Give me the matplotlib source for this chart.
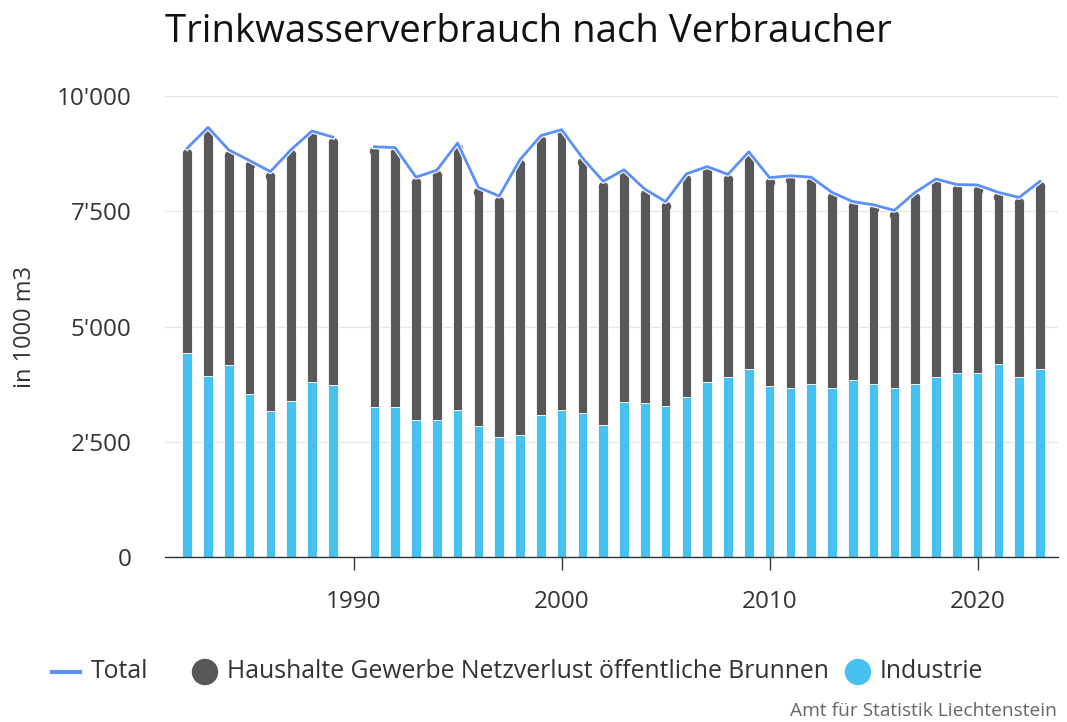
import numpy as np
import matplotlib
matplotlib.use("Agg")
import matplotlib.pyplot as plt
import matplotlib.patheffects as pe
from matplotlib.ticker import FuncFormatter

plt.rcParams['font.family'] = ['Open Sans', 'DejaVu Sans']

# Werte in 1000 m3, 1990 fehlt
years = [1982, 1983, 1984, 1985, 1986, 1987, 1988, 1989,
         1991, 1992, 1993, 1994, 1995, 1996, 1997, 1998, 1999, 2000,
         2001, 2002, 2003, 2004, 2005, 2006, 2007, 2008, 2009, 2010,
         2011, 2012, 2013, 2014, 2015, 2016, 2017, 2018, 2019, 2020,
         2021, 2022, 2023]
industrie = [4435, 3930, 4160, 3530, 3170, 3390, 3800, 3730,
             3250, 3250, 2970, 2970, 3190, 2840, 2610, 2645, 3080, 3190,
             3120, 2860, 3355, 3350, 3280, 3480, 3790, 3910, 4070, 3710,
             3670, 3750, 3670, 3830, 3750, 3670, 3750, 3910, 3990, 3990,
             4190, 3910, 4070]
haushalte = [4435, 5390, 4670, 5070, 5190, 5450, 5440, 5380,
             5650, 5630, 5270, 5420, 5790, 5180, 5220, 5975, 6060, 6080,
             5540, 5290, 5045, 4630, 4430, 4830, 4680, 4390, 4720, 4520,
             4600, 4490, 4240, 3880, 3890, 3850, 4160, 4290, 4090, 4080,
             3720, 3890, 4080]
total = [8870, 9320, 8830, 8600, 8360, 8840, 9240, 9110,
         8900, 8880, 8240, 8390, 8980, 8020, 7830, 8620, 9140, 9270,
         8660, 8150, 8400, 7980, 7710, 8310, 8470, 8300, 8790, 8230,
         8270, 8240, 7910, 7710, 7640, 7520, 7910, 8200, 8080, 8070,
         7910, 7800, 8150]

DARK = "#58585b"
LIGHT = "#47c2f0"
LINE = "#5b8ff9"
TXT = "#333333"
BAR_W = 0.46

fig = plt.figure(figsize=(10.67, 7.22), dpi=100)
ax = fig.add_axes([0.1546, 0.2285, 0.9916 - 0.1546, 0.867 - 0.2285])

x = np.array(years)
ind = np.array(industrie)
hh = np.array(haushalte)

# runde Kappe oben: Radius in Datenwerten (Achse ~46 px pro 1000)
cap_r = 4.6 / 0.046
ax.bar(x, ind, width=BAR_W, color=LIGHT, edgecolor="white", linewidth=0.6, zorder=2)
ax.bar(x, hh - cap_r, width=BAR_W, bottom=ind, color=DARK, edgecolor="white",
       linewidth=0.6, zorder=2)
ax.scatter(x, ind + hh - cap_r, s=46, color=DARK, marker="o", linewidths=0, zorder=2)

# Linie mit Luecke 1990
tot = np.array(total, dtype=float)
before = x < 1990
for mask in (before, ~before):
    ax.plot(x[mask], tot[mask], color=LINE, lw=2, zorder=3,
            path_effects=[pe.Stroke(linewidth=3.6, foreground="white"), pe.Normal()])

ax.set_xlim(1980.93, 2023.87)
ax.set_ylim(0, 10000)
ax.set_yticks([0, 2500, 5000, 7500, 10000])
ax.yaxis.set_major_formatter(FuncFormatter(lambda v, p: f"{int(v):,}".replace(",", "'")))
ax.set_xticks([1990, 2000, 2010, 2020])

ax.grid(axis="y", color="#e6e6e6", lw=1, zorder=0)
ax.set_axisbelow(True)
for s in ("top", "right", "left"):
    ax.spines[s].set_visible(False)
ax.spines["bottom"].set_color(TXT)
ax.spines["bottom"].set_linewidth(1)
ax.tick_params(axis="y", length=0, pad=24, labelsize=17.5, labelcolor=TXT)
ax.tick_params(axis="x", length=9, width=1, color=TXT, pad=15,
               labelsize=17.5, labelcolor=TXT)

ax.set_ylabel("in 1000 m3", fontsize=17, color=TXT, labelpad=14)

fig.text(0.495, 0.955, "Trinkwasserverbrauch nach Verbraucher", ha="center", va="center",
         fontsize=27.6, color="#111111")

# Legende
ly = 1 - 672 / 722
fig.lines.append(plt.Line2D([52 / 1067, 80 / 1067], [ly, ly], color=LINE, lw=3,
                            transform=fig.transFigure))
fig.text(91 / 1067, ly, "Total", fontsize=17.8, va="center", color=TXT)
fig.patches.append(matplotlib.patches.Ellipse((205 / 1067, ly), 25 / 1067, 25 / 722,
                                              color=DARK, transform=fig.transFigure))
fig.text(227 / 1067, ly, "Haushalte Gewerbe Netzverlust öffentliche Brunnen", fontsize=17.8,
         va="center", color=TXT)
fig.patches.append(matplotlib.patches.Ellipse((858 / 1067, ly), 25 / 1067, 25 / 722,
                                              color=LIGHT, transform=fig.transFigure))
fig.text(880 / 1067, ly, "Industrie", fontsize=17.8, va="center", color=TXT)

fig.text(1057 / 1067, 1 - 711 / 722, "Amt für Statistik Liechtenstein", ha="right",
         va="center", fontsize=13.8, color="#666666")

fig.savefig("out.png", dpi=100)
